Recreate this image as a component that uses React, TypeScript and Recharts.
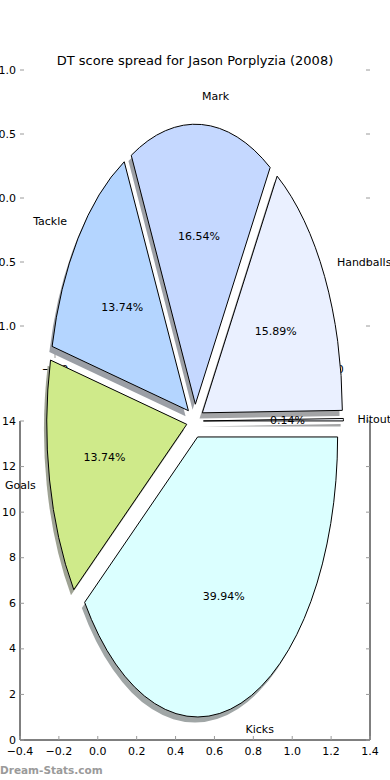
import React from 'react';
import { ScatterChart, Scatter, XAxis, YAxis, PieChart, Pie } from 'recharts';

// slices in drawing order (counter-clockwise from 3 o'clock)
const SLICE_NAMES = ['Hitout', 'Handballs', 'Mark', 'Tackle', 'Goals', 'Kicks'];
const SLICE_PCTS = [0.14, 15.89, 16.54, 13.74, 13.74, 39.94];
const SLICE_COLORS = ['#f4f8ff', '#eaf0ff', '#c5d8ff', '#b4d5ff', '#cfea8a', '#dbffff'];

const LOWER_X_TICKS = [-0.4, -0.2, 0, 0.2, 0.4, 0.6, 0.8, 1.0, 1.2, 1.4];
const LOWER_Y_TICKS = [0, 2, 4, 6, 8, 10, 12, 14];
const PIE_AXIS_TICKS = [-1, -0.5, 0, 0.5, 1];

const W = 390;
const H = 780;
const FONT = '"DejaVu Sans", Verdana, sans-serif';
const TICK_GRAY = '#9a9a9a';
const RAD = Math.PI / 180;
const ASPECT = 2; // the pie axes squash the circle into an ellipse
const EXPLODE = 0.06;

const pieData = SLICE_NAMES.map((name, i) => ({ name, value: SLICE_PCTS[i], color: SLICE_COLORS[i] }));

const fmt = (v: number) => v.toFixed(1).replace('-', '\u2212');

// matplotlib shadow: 0.3 * facecolor at alpha 0.5 over white
const shade = (hex: string) => {
  const n = parseInt(hex.slice(1), 16);
  const ch = [(n >> 16) & 255, (n >> 8) & 255, n & 255].map((c) => Math.round(127.5 + 0.15 * c));
  return `rgb(${ch.join(',')})`;
};

function wedgePath(p: any, shiftX = 0, shiftY = 0) {
  const { cx, cy, startAngle, endAngle, midAngle, outerRadius } = p;
  const rx = outerRadius;
  const ry = outerRadius * ASPECT;
  const ox = cx + EXPLODE * rx * Math.cos(midAngle * RAD) + shiftX;
  const oy = cy - EXPLODE * ry * Math.sin(midAngle * RAD) + shiftY;
  const x1 = ox + rx * Math.cos(startAngle * RAD);
  const y1 = oy - ry * Math.sin(startAngle * RAD);
  const x2 = ox + rx * Math.cos(endAngle * RAD);
  const y2 = oy - ry * Math.sin(endAngle * RAD);
  const large = Math.abs(endAngle - startAngle) > 180 ? 1 : 0;
  return `M${ox},${oy} L${x1},${y1} A${rx},${ry} 0 ${large} 0 ${x2},${y2} Z`;
}

const Wedge = (props: any) => (
  <path d={wedgePath(props)} fill={props.payload?.color ?? props.color} stroke="#000" strokeWidth={1} />
);

const ShadowWedge = (props: any) => {
  const rx = props.outerRadius;
  return (
    <path
      d={wedgePath(props, -0.02 * rx, 0.02 * rx * ASPECT)}
      fill={shade(props.payload?.color ?? props.color ?? '#ffffff')}
      stroke="none"
    />
  );
};

const renderPieLabel = (props: any) => {
  const { cx, cy, midAngle, outerRadius } = props;
  const name = props.payload?.name ?? props.name;
  const value = props.payload?.value ?? props.value;
  const c = Math.cos(midAngle * RAD);
  const s = Math.sin(midAngle * RAD);
  const rx = outerRadius;
  const ry = outerRadius * ASPECT;
  const ox = cx + EXPLODE * rx * c;
  const oy = cy - EXPLODE * ry * s;
  return (
    <g fontFamily={FONT} fontSize={11} fill="#000">
      <text x={ox + 1.1 * rx * c} y={oy - 1.1 * ry * s} textAnchor={c > 0 ? 'start' : 'end'} dominantBaseline="central">
        {name}
      </text>
      <text x={ox + 0.6 * rx * c} y={oy - 0.6 * ry * s} textAnchor="middle" dominantBaseline="central">
        {`${value.toFixed(2)}%`}
      </text>
    </g>
  );
};

// inward tick marks, matplotlib style
const LeftTick = ({ x, y, payload, label }: any) => (
  <g>
    <line x1={x} x2={x + 4} y1={y} y2={y} stroke={TICK_GRAY} />
    {label && (
      <text x={x - 4} y={y} textAnchor="end" dominantBaseline="central" fontSize={11} fontFamily={FONT} fill="#000">
        {label(payload.value)}
      </text>
    )}
  </g>
);
const RightTick = ({ x, y }: any) => <line x1={x - 4} x2={x} y1={y} y2={y} stroke={TICK_GRAY} />;
const TopTick = ({ x, y }: any) => <line x1={x} x2={x} y1={y} y2={y + 4} stroke={TICK_GRAY} />;
const BottomTick = ({ x, y, payload }: any) => (
  <g>
    <line x1={x} x2={x} y1={y - 4} y2={y} stroke={TICK_GRAY} />
    <text x={x} y={y + 11} textAnchor="middle" dominantBaseline="central" fontSize={11} fontFamily={FONT} fill="#000">
      {fmt(payload.value)}
    </text>
  </g>
);

const layer: React.CSSProperties = { position: 'absolute', left: 0, top: 0, width: W, height: H };

export default function App() {
  return (
    <div style={{ position: 'absolute', left: 0, top: 0, width: W, height: H, background: '#fff', fontFamily: FONT }}>
      {/* lower axes (0..14) */}
      <div style={layer}>
        <ScatterChart width={W} height={H} margin={{ top: 421, right: 0, bottom: 0, left: 0 }}>
          <XAxis xAxisId="b" type="number" dataKey="x" domain={[-0.4, 1.4]} ticks={LOWER_X_TICKS} height={40}
            axisLine={{ stroke: '#000' }} tickLine={false} tickSize={0} tickMargin={0} tick={<BottomTick />} allowDataOverflow />
          <XAxis xAxisId="t" orientation="top" type="number" domain={[-0.4, 1.4]} ticks={LOWER_X_TICKS} height={0}
            axisLine={{ stroke: '#000' }} tickLine={false} tickSize={0} tickMargin={0} tick={<TopTick />} allowDataOverflow />
          <YAxis yAxisId="l" type="number" dataKey="y" domain={[0, 14]} ticks={LOWER_Y_TICKS} width={20}
            axisLine={{ stroke: '#000' }} tickLine={false} tickSize={0} tickMargin={0}
            tick={<LeftTick label={(v: number) => String(v)} />} allowDataOverflow />
          <YAxis yAxisId="r" orientation="right" type="number" domain={[0, 14]} ticks={LOWER_Y_TICKS} width={20}
            axisLine={{ stroke: '#000' }} tickLine={false} tickSize={0} tickMargin={0} tick={<RightTick />} allowDataOverflow />
          <Scatter xAxisId="b" yAxisId="l" data={[]} isAnimationActive={false} />
          <Scatter xAxisId="t" yAxisId="r" data={[]} isAnimationActive={false} />
        </ScatterChart>
      </div>

      {/* pie axes (-1.25..1.25), frame hidden */}
      <div style={layer}>
        <ScatterChart width={W} height={H} margin={{ top: 38, right: 0, bottom: 0, left: 0 }}>
          <XAxis xAxisId="b" type="number" dataKey="x" domain={[-1.25, 1.25]} ticks={PIE_AXIS_TICKS} height={422}
            axisLine={false} tickLine={false} tickSize={0} tickMargin={0} tick={<BottomTick />} allowDataOverflow />
          <XAxis xAxisId="t" orientation="top" type="number" domain={[-1.25, 1.25]} ticks={PIE_AXIS_TICKS} height={0}
            axisLine={false} tickLine={false} tickSize={0} tickMargin={0} tick={<TopTick />} allowDataOverflow />
          <YAxis yAxisId="l" type="number" dataKey="y" domain={[-1.25, 1.25]} ticks={PIE_AXIS_TICKS} width={20}
            axisLine={false} tickLine={false} tickSize={0} tickMargin={0} tick={<LeftTick label={fmt} />} allowDataOverflow />
          <YAxis yAxisId="r" orientation="right" type="number" domain={[-1.25, 1.25]} ticks={PIE_AXIS_TICKS} width={20}
            axisLine={false} tickLine={false} tickSize={0} tickMargin={0} tick={<RightTick />} allowDataOverflow />
          <Scatter xAxisId="b" yAxisId="l" data={[]} isAnimationActive={false} />
          <Scatter xAxisId="t" yAxisId="r" data={[]} isAnimationActive={false} />
        </ScatterChart>
      </div>

      {/* exploded pie with shadows */}
      <div style={layer}>
        <PieChart width={W} height={H} margin={{ top: 0, right: 0, bottom: 0, left: 0 }}>
          <Pie data={pieData} dataKey="value" nameKey="name" cx={195} cy={421} outerRadius={140}
            startAngle={0} endAngle={360} shape={ShadowWedge} activeShape={ShadowWedge} inactiveShape={ShadowWedge}
            isAnimationActive={false} label={false} labelLine={false} />
          <Pie data={pieData} dataKey="value" nameKey="name" cx={195} cy={421} outerRadius={140}
            startAngle={0} endAngle={360} shape={Wedge} activeShape={Wedge} inactiveShape={Wedge}
            isAnimationActive={false} label={renderPieLabel} labelLine={false} />
        </PieChart>
      </div>

      <div style={{ position: 'absolute', left: 0, top: 53, width: W, textAlign: 'center', fontSize: 13, lineHeight: '16px', color: '#000' }}>
        DT score spread for Jason Porplyzia (2008)
      </div>
      <div style={{ position: 'absolute', left: 0, top: 763, fontSize: 10.5, lineHeight: '14px', fontWeight: 'bold', color: '#9a9a9a' }}>
        Dream-Stats.com
      </div>
    </div>
  );
}
